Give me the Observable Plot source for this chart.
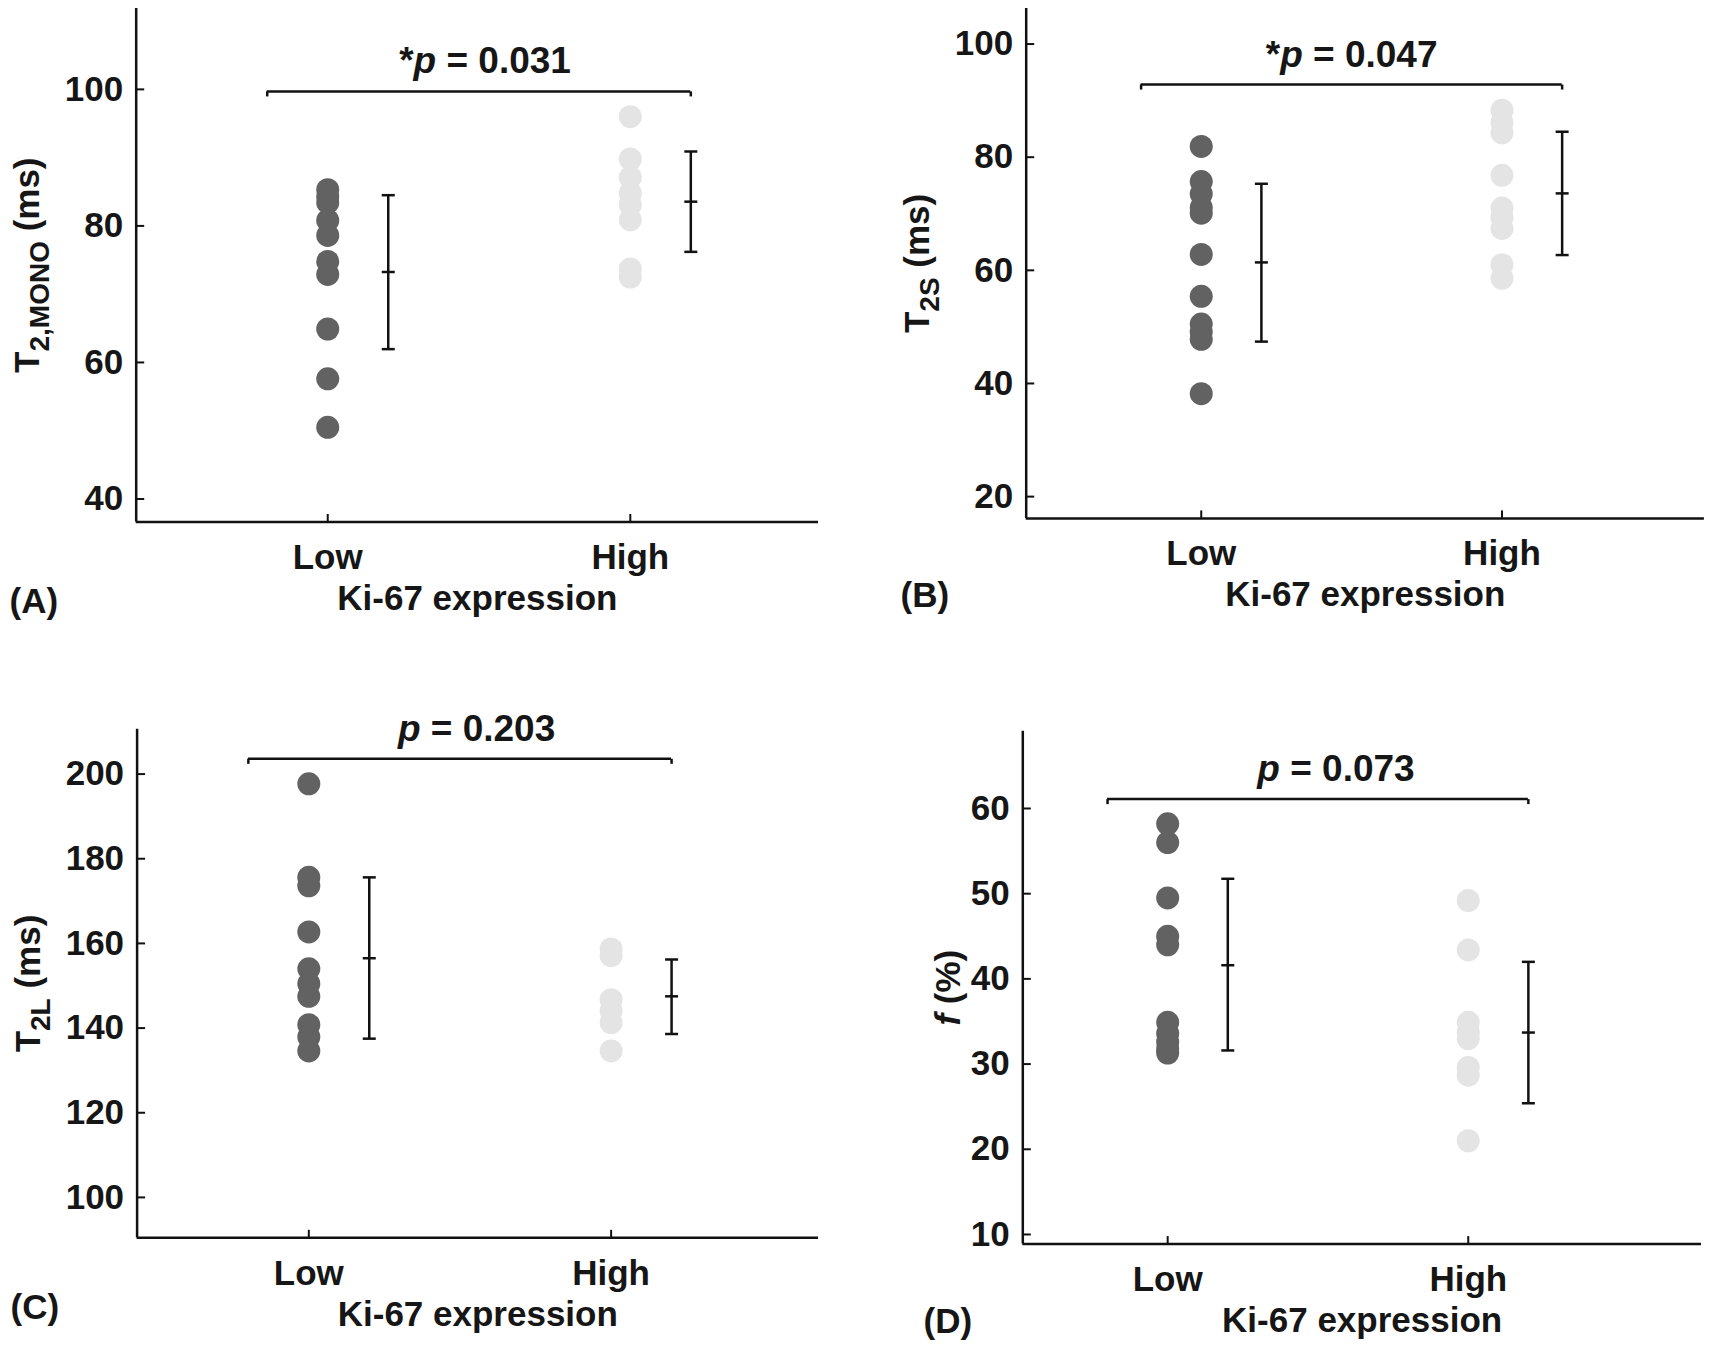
<!DOCTYPE html>
<html>
<head>
<meta charset="utf-8">
<script src="https://cdn.jsdelivr.net/npm/d3@7"></script>
<script src="https://cdn.jsdelivr.net/npm/@observablehq/plot@0.6"></script>
<style>
  html, body { margin: 0; padding: 0; background: #fff; overflow: hidden; }
  #wrap { position: relative; width: 1713px; height: 1345px; background: #fff; }
</style>
</head>
<body>
<div id="wrap"></div>
<script>
// ---------------- data ----------------
const categories = ["Low", "High"];            // x positions 1 and 2
const xLabel = "Ki-67 expression";
const panelLabels = ["(A)", "(B)", "(C)", "(D)"];
const yLabelText = ["T2,MONO (ms)", "T2S (ms)", "T2L (ms)", "f (%)"];
const yLabelParts = [
  [["T", ""], ["2,MONO", "sub"], [" (ms)", ""]],
  [["T", ""], ["2S", "sub"], [" (ms)", ""]],
  [["T", ""], ["2L", "sub"], [" (ms)", ""]],
  [["f", "italic"], [" (%)", ""]]
];
const pTexts = ["*p = 0.031", "*p = 0.047", "p = 0.203", "p = 0.073"];
const pParts = [
  [["*", ""], ["p", "italic"], [" = 0.031", ""]],
  [["*", ""], ["p", "italic"], [" = 0.047", ""]],
  [["p", "italic"], [" = 0.203", ""]],
  [["p", "italic"], [" = 0.073", ""]]
];
const pTextX = [1.52, 1.50, 1.555, 1.56];
const sigY = [99.7, 92.84, 203.6, 61.1];
const sigX = [0.8, 2.2];
const errX = [1.2, 2.2];

const yTicksA = [40, 60, 80, 100];
const yTicksB = [20, 40, 60, 80, 100];
const yTicksC = [100, 120, 140, 160, 180, 200];
const yTicksD = [10, 20, 30, 40, 50, 60];

// Panel A: T2,MONO
const lowA  = [85.3, 84.3, 83.4, 80.8, 78.6, 74.8, 72.9, 64.9, 57.6, 50.5];
const highA = [96.0, 89.8, 87.1, 84.8, 83.1, 80.9, 73.7, 72.5];
const errLowA  = [61.95, 73.25, 84.5];   // [lower, mean, upper]
const errHighA = [76.2, 83.55, 90.9];
// Panel B: T2S
const lowB  = [81.9, 75.7, 73.5, 71.1, 70.1, 62.8, 55.4, 50.5, 49.1, 47.8, 38.2];
const highB = [88.3, 86.1, 84.3, 76.8, 71.0, 69.4, 67.4, 61.0, 58.6];
const errLowB  = [47.4, 61.4, 75.3];
const errHighB = [62.7, 73.6, 84.5];
// Panel C: T2L
const lowC  = [197.7, 175.6, 173.6, 162.7, 154.0, 150.5, 147.5, 140.8, 137.9, 134.6];
const highC = [158.7, 157.1, 146.7, 144.0, 141.3, 134.6];
const errLowC  = [137.5, 156.5, 175.6];
const errHighC = [138.6, 147.5, 156.2];
// Panel D: f
const lowD  = [58.2, 56.0, 49.5, 45.0, 44.0, 34.9, 33.6, 32.6, 31.8, 31.3];
const highD = [49.2, 43.4, 34.9, 33.7, 33.0, 29.6, 28.7, 21.0];
const errLowD  = [31.6, 41.6, 51.75];
const errHighD = [25.4, 33.7, 42.0];

// ---------------- layout / style ----------------
const W = 1713, H = 1345;
const FONT = "'Liberation Sans', Arial, Helvetica, sans-serif";
const TEXT = "#161616", LINE = "#111", DARK = "#626262", LIGHT = "#e4e4e4";
const layout = [
  {frame: [135.7, 818, 7.9, 521.5],     xDomain: [0.367, 2.622], yDomain: [36.63, 111.86], yTicks: yTicksA, low: lowA, high: highA, errLow: errLowA, errHigh: errHighA, yLabelDx: -97, panelDx: -126.7, panelDy: 79.5},
  {frame: [1025.7, 1703.9, 7.9, 517.9], xDomain: [0.418, 2.673], yDomain: [16.15, 106.3], yTicks: yTicksB, low: lowB, high: highB, errLow: errLowB, errHigh: errHighB, yLabelDx: -97, panelDx: -125.7, panelDy: 77.6},
  {frame: [136.6, 818, 728.7, 1237.3],  xDomain: [0.432, 2.686], yDomain: [90.46, 210.6], yTicks: yTicksC, low: lowC, high: highC, errLow: errLowC, errHigh: errHighC, yLabelDx: -97, panelDx: -126.6, panelDy: 70.2},
  {frame: [1022.3, 1701, 730.8, 1243.6], xDomain: [0.518, 2.776], yDomain: [8.87, 69.06], yTicks: yTicksD, low: lowD, high: highD, errLow: errLowD, errHigh: errHighD, yLabelDx: -63, panelDx: -99.3, panelDy: 78}
];

// custom symbols (fixed pixel sizes)
const capSym   = {draw(c) { c.moveTo(-6.5, 0); c.lineTo(6.5, 0); }};
const endSym   = {draw(c) { c.moveTo(0, 0); c.lineTo(0, 5); }};
const yTickSym = {draw(c) { c.moveTo(0, 0); c.lineTo(8, 0); }};
const xTickSym = {draw(c) { c.moveTo(0, 0); c.lineTo(0, -8); }};

function richText(svg, content, parts, subShift) {
  const t = Array.from(svg.querySelectorAll("text")).find(e => e.textContent === content);
  if (!t) return;
  while (t.firstChild) t.removeChild(t.firstChild);
  t.style.whiteSpace = "pre";
  let shift = 0;
  for (const [s, kind] of parts) {
    const ts = document.createElementNS("http://www.w3.org/2000/svg", "tspan");
    ts.textContent = s;
    if (kind === "italic") ts.setAttribute("font-style", "italic");
    if (kind === "sub") {
      ts.setAttribute("font-size", "0.8em");
      ts.setAttribute("dy", subShift - shift);
      shift = subShift;
    } else if (shift) {
      ts.setAttribute("dy", -shift);
      shift = 0;
    }
    t.appendChild(ts);
  }
}

const wrap = document.getElementById("wrap");
layout.forEach((p, i) => {
  const [L, R, T, B] = p.frame;
  const xd = p.xDomain, yd = p.yDomain;
  const lowPts = p.low.map(v => ({x: 1, y: v}));
  const highPts = p.high.map(v => ({x: 2, y: v}));
  const errs = [
    {x: errX[0], lo: p.errLow[0], m: p.errLow[1], hi: p.errLow[2]},
    {x: errX[1], lo: p.errHigh[0], m: p.errHigh[1], hi: p.errHigh[2]}
  ];
  const caps = errs.flatMap(e => [{x: e.x, y: e.lo}, {x: e.x, y: e.m}, {x: e.x, y: e.hi}]);
  const sigEnds = sigX.map(x => ({x, y: sigY[i]}));
  const txt = {fontFamily: FONT, fontWeight: "bold", fontSize: 35, fill: TEXT};

  const svg = Plot.plot({
    width: W, height: H,
    marginLeft: L, marginRight: W - R, marginTop: T, marginBottom: H - B,
    style: `background: transparent; position: absolute; left: 0; top: 0; overflow: visible; max-width: none; color: ${TEXT}; font-family: ${FONT};`,
    x: {domain: xd},
    y: {domain: yd},
    marks: [
      Plot.axisY({ticks: p.yTicks, tickSize: 0, tickPadding: 13, label: null, ...txt}),
      Plot.axisX({ticks: [1, 2], tickFormat: d => categories[d - 1], tickSize: 0, tickPadding: 22, label: null, ...txt}),
      Plot.ruleX([xd[0]], {stroke: LINE, strokeWidth: 2.5}),
      Plot.ruleY([yd[0]], {stroke: LINE, strokeWidth: 2.5}),
      Plot.dot(p.yTicks, {x: () => xd[0], y: d => d, symbol: yTickSym, fill: "none", stroke: LINE, strokeWidth: 2}),
      Plot.dot([1, 2], {x: d => d, y: () => yd[0], symbol: xTickSym, fill: "none", stroke: LINE, strokeWidth: 2}),
      Plot.dot(lowPts, {x: "x", y: "y", r: 11.5, fill: DARK, stroke: "none"}),
      Plot.dot(highPts, {x: "x", y: "y", r: 11.5, fill: LIGHT, stroke: "none"}),
      Plot.ruleX(errs, {x: "x", y1: "lo", y2: "hi", stroke: LINE, strokeWidth: 2.5}),
      Plot.dot(caps, {x: "x", y: "y", symbol: capSym, fill: "none", stroke: LINE, strokeWidth: 2.5}),
      Plot.ruleY([sigY[i]], {y: d => d, x1: sigX[0], x2: sigX[1], stroke: LINE, strokeWidth: 2.5}),
      Plot.dot(sigEnds, {x: "x", y: "y", symbol: endSym, fill: "none", stroke: LINE, strokeWidth: 2.5}),
      Plot.text([pTexts[i]], {text: d => d, x: () => pTextX[i], y: () => sigY[i], dy: -18, lineAnchor: "bottom", textAnchor: "middle", ...txt, fontSize: 37}),
      Plot.text([xLabel], {text: d => d, frameAnchor: "bottom", dy: 63, lineAnchor: "top", textAnchor: "middle", ...txt}),
      Plot.text([panelLabels[i]], {text: d => d, frameAnchor: "bottom-left", dx: p.panelDx, dy: p.panelDy, lineAnchor: "middle", textAnchor: "start", ...txt}),
      Plot.text([yLabelText[i]], {text: d => d, frameAnchor: "left", rotate: -90, dx: p.yLabelDx, lineAnchor: "bottom", textAnchor: "middle", ...txt})
    ]
  });
  richText(svg, pTexts[i], pParts[i], 0);
  richText(svg, yLabelText[i], yLabelParts[i], 10);
  wrap.appendChild(svg);
});
</script>
</body>
</html>
